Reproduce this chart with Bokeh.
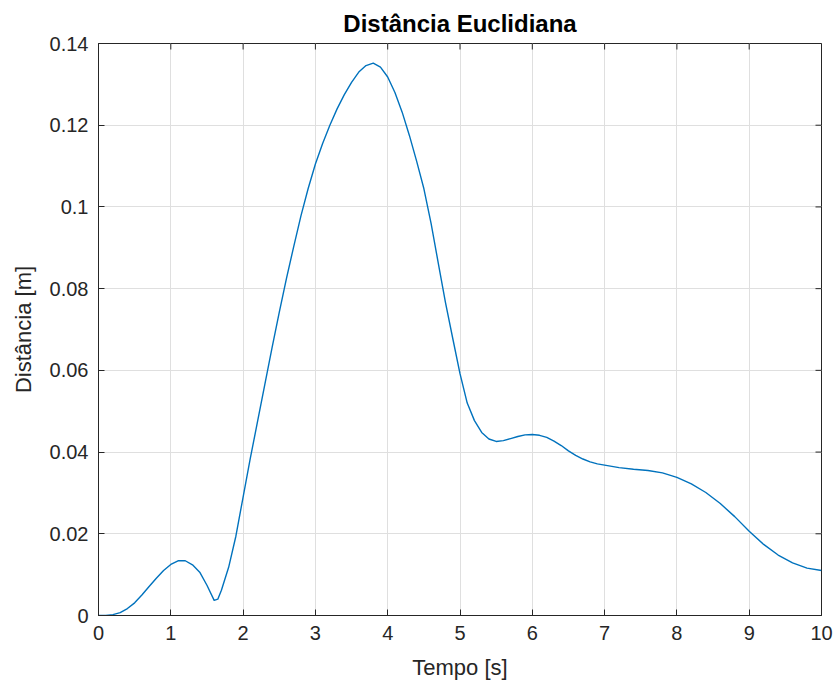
from bokeh.plotting import figure
from bokeh.models import Range1d, FixedTicker
from bokeh.embed import file_html
from bokeh.resources import INLINE

# Data
tempo = [0.0, 0.1, 0.2, 0.3, 0.4, 0.5, 0.6, 0.7, 0.8, 0.9,
         1.0, 1.1, 1.2, 1.3, 1.4, 1.5, 1.6, 1.65, 1.7, 1.8, 1.9,
         2.0, 2.1, 2.2, 2.3, 2.4, 2.5, 2.6, 2.7, 2.8, 2.9,
         3.0, 3.1, 3.2, 3.3, 3.4, 3.5, 3.6, 3.7, 3.8, 3.9,
         4.0, 4.1, 4.2, 4.3, 4.4, 4.5, 4.6, 4.7, 4.8, 4.9,
         5.0, 5.1, 5.2, 5.3, 5.4, 5.5, 5.6, 5.7, 5.8, 5.9,
         6.0, 6.1, 6.2, 6.3, 6.4, 6.5, 6.6, 6.7, 6.8, 6.9,
         7.0, 7.2, 7.4, 7.6, 7.8, 8.0, 8.2, 8.4, 8.6, 8.8,
         9.0, 9.2, 9.4, 9.6, 9.8, 10.0]
distancia = [0.0000, 0.0000, 0.0002, 0.0007, 0.0017, 0.0031, 0.0050, 0.0071, 0.0091, 0.0110,
             0.0125, 0.0134, 0.0134, 0.0124, 0.0106, 0.0074, 0.0037, 0.0040, 0.0062, 0.0118, 0.0194,
             0.0290, 0.0385, 0.0475, 0.0565, 0.0655, 0.0742, 0.0825, 0.0903, 0.0978, 0.1045,
             0.1105, 0.1155, 0.1200, 0.1240, 0.1275, 0.1305, 0.1330, 0.1346, 0.1352, 0.1342,
             0.1318, 0.1280, 0.1232, 0.1175, 0.1112, 0.1045, 0.0960, 0.0862, 0.0765, 0.0678,
             0.0592, 0.0520, 0.0477, 0.0448, 0.0432, 0.0426, 0.0428, 0.0433, 0.0438, 0.0442,
             0.0443, 0.0441, 0.0436, 0.0427, 0.0416, 0.0403, 0.0392, 0.0383, 0.0376, 0.0371,
             0.0368, 0.0362, 0.0358, 0.0355, 0.0349, 0.0338, 0.0322, 0.0301, 0.0274, 0.0242,
             0.0206, 0.0174, 0.0148, 0.0129, 0.0116, 0.0110]

x_ticks = [0, 1, 2, 3, 4, 5, 6, 7, 8, 9, 10]
y_ticks = [0, 0.02, 0.04, 0.06, 0.08, 0.1, 0.12, 0.14]
y_tick_labels = ["0", "0.02", "0.04", "0.06", "0.08", "0.1", "0.12", "0.14"]
x_tick_labels = [str(t) for t in x_ticks]

FONT = "Liberation Sans"
DARK = "#262626"
X_MIN, X_MAX = x_ticks[0], x_ticks[-1]
Y_MIN, Y_MAX = y_ticks[0], y_ticks[-1]

p = figure(width=837, height=690, output_backend="svg", toolbar_location=None,
           x_range=Range1d(X_MIN, X_MAX), y_range=Range1d(Y_MIN, Y_MAX),
           min_border_left=98, min_border_right=16, min_border_top=43, min_border_bottom=75,
           x_axis_label="Tempo [s]", y_axis_label="Distância [m]")

p.title.text = "Distância Euclidiana"
p.title.align = "center"
p.title.text_font = FONT
p.title.text_font_style = "bold"
p.title.text_font_size = "24px"
p.title.text_color = "#000000"
p.title.standoff = 14

p.xaxis.ticker = FixedTicker(ticks=x_ticks)
p.yaxis.ticker = FixedTicker(ticks=y_ticks)
p.yaxis.major_label_overrides = {t: l for t, l in zip(y_ticks, y_tick_labels)}
p.xaxis.major_label_overrides = {t: l for t, l in zip(x_ticks, x_tick_labels)}

for ax in (p.xaxis[0], p.yaxis[0]):
    ax.axis_line_color = DARK
    ax.major_tick_line_color = DARK
    ax.major_tick_in = 6
    ax.major_tick_out = 0
    ax.minor_tick_line_color = None
    ax.major_label_text_font = FONT
    ax.major_label_text_font_size = "20px"
    ax.major_label_text_color = DARK
    ax.axis_label_text_font = FONT
    ax.axis_label_text_font_size = "22px"
    ax.axis_label_text_font_style = "normal"
    ax.axis_label_text_color = DARK
p.xaxis.major_label_standoff = 10
p.yaxis.major_label_standoff = 10
p.xaxis.axis_label_standoff = 12
p.yaxis.axis_label_standoff = 11

p.xgrid.ticker = FixedTicker(ticks=x_ticks)
p.ygrid.ticker = FixedTicker(ticks=y_ticks)
p.xgrid.grid_line_color = "#dfdfdf"
p.ygrid.grid_line_color = "#dfdfdf"
p.outline_line_color = DARK
p.outline_line_alpha = 1.0
p.background_fill_color = "white"
p.border_fill_color = "white"

# Inward ticks on the top and right edges of the box (MATLAB style)
p.ray(x=x_ticks, y=[Y_MAX] * len(x_ticks), length=6, length_units="screen",
      angle=-90, angle_units="deg", line_color=DARK, line_width=1)
p.ray(x=[X_MAX] * len(y_ticks), y=y_ticks, length=6, length_units="screen",
      angle=180, angle_units="deg", line_color=DARK, line_width=1)

p.line(tempo, distancia, line_color="#0072BD", line_width=1.4, line_join="round")

open("out.html", "w").write(file_html(p, INLINE))
